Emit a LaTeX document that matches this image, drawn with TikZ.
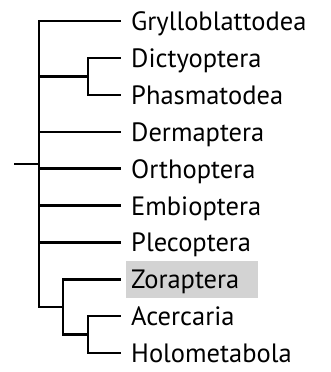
\documentclass[tikz,border=0pt]{standalone}
\usepackage{fontspec}
\setsansfont{PT Sans}
\usetikzlibrary{calc, positioning}
\definecolor{hilite}{RGB}{211,211,211}

\begin{document}
\begin{tikzpicture}[x=1pt, y=-1pt, font=\sffamily\fontsize{26.5}{30}\selectfont,
  branch/.style={line width=2.4pt},
  tip/.style={branch, shorten >=5pt},
  taxon/.style={anchor=west, inner xsep=5pt, inner ysep=0pt, text height=19pt, text depth=0pt, minimum height=37pt}]
  \useasboundingbox (0,0) rectangle (331,372);

  % taxa
  \node[taxon] (gry) at (126, 21.0) {Grylloblattodea};
  \node[taxon] (dic) at (126, 57.9) {Dictyoptera};
  \node[taxon] (pha) at (126, 94.8) {Phasmatodea};
  \node[taxon] (der) at (126, 131.7) {Dermaptera};
  \node[taxon] (ort) at (126, 168.6) {Orthoptera};
  \node[taxon] (emb) at (126, 205.5) {Embioptera};
  \node[taxon] (ple) at (126, 242.4) {Plecoptera};
  \node[taxon, fill=hilite, text width=122pt, align=left] (zor) at (126, 279.3) {Zoraptera};
  \node[taxon] (ace) at (126, 316.2) {Acercaria};
  \node[taxon] (hol) at (126, 353.1) {Holometabola};

  % internal nodes
  \coordinate (root) at (14, 164);
  \coordinate (n0) at (39, 164);
  \coordinate (dp) at (88, 76.4);
  \coordinate (zah) at (63, 307);
  \coordinate (ah) at (88, 334.6);

  \draw[branch] (root) -- (n0);
  \draw[tip] (n0) |- (gry.west);
  \draw[branch] (n0) |- (dp);
  \draw[tip] (dp) |- (dic.west);
  \draw[tip] (dp) |- (pha.west);
  \draw[tip] (n0) |- (der.west);
  \draw[tip] (n0) |- (ort.west);
  \draw[tip] (n0) |- (emb.west);
  \draw[tip] (n0) |- (ple.west);
  \draw[branch] (n0) |- (zah);
  \draw[tip] (zah) |- (zor.west);
  \draw[branch] (zah) |- (ah);
  \draw[tip] (ah) |- (ace.west);
  \draw[tip] (ah) |- (hol.west);
\end{tikzpicture}
\end{document}
